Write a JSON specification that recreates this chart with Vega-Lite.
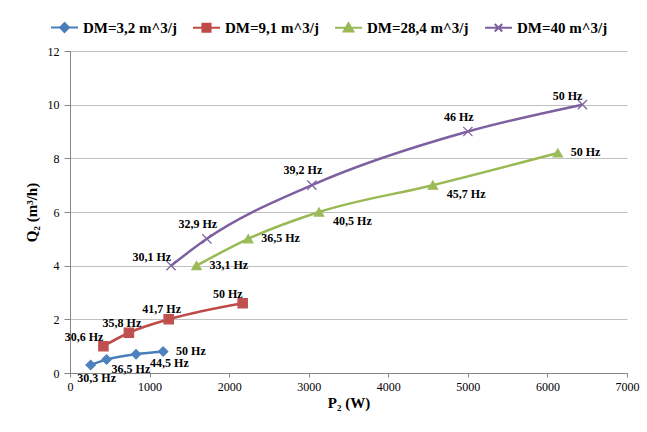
{
  "$schema": "https://vega.github.io/schema/vega-lite/v6.json",
  "width": 557,
  "height": 322,
  "autosize": {"type": "none"},
  "padding": {"left": 70, "top": 51, "right": 20, "bottom": 59},
  "background": "white",
  "config": {"view": {"stroke": null}, "font": "Liberation Serif"},
  "data": {
    "values": [
      {"series": "DM=3,2 m^3/j", "P": 260, "Q": 0.3, "label": "30,3 Hz"},
      {"series": "DM=3,2 m^3/j", "P": 460, "Q": 0.5, "label": "36,5 Hz"},
      {"series": "DM=3,2 m^3/j", "P": 830, "Q": 0.7, "label": "44,5 Hz"},
      {"series": "DM=3,2 m^3/j", "P": 1170, "Q": 0.8, "label": "50 Hz"},
      {"series": "DM=9,1 m^3/j", "P": 420, "Q": 1.0, "label": "30,6 Hz"},
      {"series": "DM=9,1 m^3/j", "P": 740, "Q": 1.5, "label": "35,8 Hz"},
      {"series": "DM=9,1 m^3/j", "P": 1240, "Q": 2.0, "label": "41,7 Hz"},
      {"series": "DM=9,1 m^3/j", "P": 2170, "Q": 2.6, "label": "50 Hz"},
      {"series": "DM=28,4 m^3/j", "P": 1590, "Q": 4.0, "label": "33,1 Hz"},
      {"series": "DM=28,4 m^3/j", "P": 2240, "Q": 5.0, "label": "36,5 Hz"},
      {"series": "DM=28,4 m^3/j", "P": 3130, "Q": 6.0, "label": "40,5 Hz"},
      {"series": "DM=28,4 m^3/j", "P": 4560, "Q": 7.0, "label": "45,7 Hz"},
      {"series": "DM=28,4 m^3/j", "P": 6130, "Q": 8.2, "label": "50 Hz"},
      {"series": "DM=40 m^3/j", "P": 1270, "Q": 4.0, "label": "30,1 Hz"},
      {"series": "DM=40 m^3/j", "P": 1720, "Q": 5.0, "label": "32,9 Hz"},
      {"series": "DM=40 m^3/j", "P": 3040, "Q": 7.0, "label": "39,2 Hz"},
      {"series": "DM=40 m^3/j", "P": 5000, "Q": 9.0, "label": "46 Hz"},
      {"series": "DM=40 m^3/j", "P": 6440, "Q": 10.0, "label": "50 Hz"}
    ]
  },
  "encoding": {
    "x": {
      "field": "P", "type": "quantitative",
      "scale": {"domain": [0, 7000], "nice": false},
      "axis": {
        "title": "P₂ (W)", "values": [0, 1000, 2000, 3000, 4000, 5000, 6000, 7000], "format": "d",
        "grid": false, "tickSize": 4, "tickColor": "#868686", "domainColor": "#868686",
        "labelFont": "Liberation Serif", "labelFontSize": 12, "labelColor": "#000",
        "labelFlush": false, "labelPadding": 4,
        "titleFont": "Liberation Serif", "titleFontSize": 15, "titleFontWeight": "bold",
        "titleColor": "#000", "titlePadding": 3
      }
    },
    "y": {
      "field": "Q", "type": "quantitative",
      "scale": {"domain": [0, 12], "nice": false},
      "axis": {
        "title": "Q₂ (m³/h)", "values": [0, 2, 4, 6, 8, 10, 12],
        "grid": true, "gridColor": "#C0C0C0", "gridWidth": 1,
        "tickSize": 6, "tickColor": "#868686", "domainColor": "#868686",
        "labelFont": "Liberation Serif", "labelFontSize": 12, "labelColor": "#000",
        "labelPadding": 5,
        "titleFont": "Liberation Serif", "titleFontSize": 15, "titleFontWeight": "bold",
        "titleColor": "#000", "titlePadding": 8
      }
    }
  },
  "layer": [
    {
      "mark": {"type": "line", "interpolate": "monotone", "strokeWidth": 2.5},
      "encoding": {
        "color": {"field": "series", "type": "nominal",
          "scale": {"domain": ["DM=3,2 m^3/j", "DM=9,1 m^3/j", "DM=28,4 m^3/j", "DM=40 m^3/j"], "range": ["#4A7EBB", "#BE4B48", "#98B954", "#7D60A0"]},
          "legend": null}
      }
    },
    {
      "mark": {"type": "point", "filled": true, "size": 85, "opacity": 1, "strokeWidth": 1.3},
      "encoding": {
        "color": {"field": "series", "type": "nominal",
          "scale": {"domain": ["DM=3,2 m^3/j", "DM=9,1 m^3/j", "DM=28,4 m^3/j", "DM=40 m^3/j"], "range": ["#4F81BD", "#C0504D", "#9BBB59", "#8064A2"]},
          "legend": null},
        "stroke": {"field": "series", "type": "nominal",
          "scale": {"domain": ["DM=3,2 m^3/j", "DM=9,1 m^3/j", "DM=28,4 m^3/j", "DM=40 m^3/j"], "range": ["#4F81BD", "#C0504D", "#9BBB59", "#8064A2"]},
          "legend": null},
        "shape": {"field": "series", "type": "nominal",
          "scale": {"domain": ["DM=3,2 m^3/j", "DM=9,1 m^3/j", "DM=28,4 m^3/j", "DM=40 m^3/j"], "range": ["diamond", "square", "triangle-up", "M-1,-1L1,1M1,-1L-1,1"]},
          "legend": null}
      }
    },
    {
      "transform": [{"filter": "datum.P < 0"}],
      "mark": {"type": "point", "filled": true, "opacity": 1, "strokeWidth": 2},
      "encoding": {
        "color": {"field": "series", "type": "nominal",
          "scale": {"domain": ["DM=3,2 m^3/j", "DM=9,1 m^3/j", "DM=28,4 m^3/j", "DM=40 m^3/j"], "range": ["#4A7EBB", "#BE4B48", "#98B954", "#7D60A0"]},
          "legend": {"orient": "none", "legendX": -20, "legendY": -38, "direction": "horizontal", "columns": 4, "title": null, "symbolSize": 729, "symbolStrokeWidth": 2, "labelFont": "Liberation Serif", "labelFontSize": 15, "labelFontWeight": "bold", "labelColor": "#000", "columnPadding": 12, "labelOffset": 4}},
        "stroke": {"field": "series", "type": "nominal",
          "scale": {"domain": ["DM=3,2 m^3/j", "DM=9,1 m^3/j", "DM=28,4 m^3/j", "DM=40 m^3/j"], "range": ["#4A7EBB", "#BE4B48", "#98B954", "#7D60A0"]},
          "legend": {"orient": "none", "legendX": -20, "legendY": -38, "direction": "horizontal", "columns": 4, "title": null, "symbolSize": 729, "symbolStrokeWidth": 2, "labelFont": "Liberation Serif", "labelFontSize": 15, "labelFontWeight": "bold", "labelColor": "#000", "columnPadding": 12, "labelOffset": 4}},
        "shape": {"field": "series", "type": "nominal",
          "scale": {"domain": ["DM=3,2 m^3/j", "DM=9,1 m^3/j", "DM=28,4 m^3/j", "DM=40 m^3/j"], "range": ["M-1,0L1,0M0,-0.33L0.33,0L0,0.33L-0.33,0Z", "M-1,0L1,0M-0.3,-0.3L0.3,-0.3L0.3,0.3L-0.3,0.3Z", "M-1,0L1,0M0,-0.34L0.36,0.28L-0.36,0.28Z", "M-1,0L1,0M-0.28,-0.28L0.28,0.28M0.28,-0.28L-0.28,0.28"]},
          "legend": {"orient": "none", "legendX": -20, "legendY": -38, "direction": "horizontal", "columns": 4, "title": null, "symbolSize": 729, "symbolStrokeWidth": 2, "labelFont": "Liberation Serif", "labelFontSize": 15, "labelFontWeight": "bold", "labelColor": "#000", "columnPadding": 12, "labelOffset": 4}}
      }
    },
    {
      "transform": [{"filter": "indexof(['DM=3,2 m^3/j|30,3 Hz'], datum.series + '|' + datum.label) >= 0"}],
      "mark": {"type": "text", "align": "center", "baseline": "middle", "dx": 6, "dy": 13, "font": "Liberation Serif", "fontSize": 12, "fontWeight": "bold", "color": "#000"},
      "encoding": {"text": {"field": "label"}}
    },
    {
      "transform": [{"filter": "indexof(['DM=3,2 m^3/j|36,5 Hz'], datum.series + '|' + datum.label) >= 0"}],
      "mark": {"type": "text", "align": "left", "baseline": "middle", "dx": 5, "dy": 9, "font": "Liberation Serif", "fontSize": 12, "fontWeight": "bold", "color": "#000"},
      "encoding": {"text": {"field": "label"}}
    },
    {
      "transform": [{"filter": "indexof(['DM=3,2 m^3/j|44,5 Hz', 'DM=28,4 m^3/j|40,5 Hz', 'DM=28,4 m^3/j|45,7 Hz'], datum.series + '|' + datum.label) >= 0"}],
      "mark": {"type": "text", "align": "left", "baseline": "middle", "dx": 14, "dy": 9, "font": "Liberation Serif", "fontSize": 12, "fontWeight": "bold", "color": "#000"},
      "encoding": {"text": {"field": "label"}}
    },
    {
      "transform": [{"filter": "indexof(['DM=3,2 m^3/j|50 Hz', 'DM=28,4 m^3/j|33,1 Hz', 'DM=28,4 m^3/j|36,5 Hz', 'DM=28,4 m^3/j|50 Hz'], datum.series + '|' + datum.label) >= 0"}],
      "mark": {"type": "text", "align": "left", "baseline": "middle", "dx": 13, "dy": -1, "font": "Liberation Serif", "fontSize": 12, "fontWeight": "bold", "color": "#000"},
      "encoding": {"text": {"field": "label"}}
    },
    {
      "transform": [{"filter": "indexof(['DM=9,1 m^3/j|35,8 Hz', 'DM=9,1 m^3/j|41,7 Hz'], datum.series + '|' + datum.label) >= 0"}],
      "mark": {"type": "text", "align": "center", "baseline": "middle", "dx": -7, "dy": -10, "font": "Liberation Serif", "fontSize": 12, "fontWeight": "bold", "color": "#000"},
      "encoding": {"text": {"field": "label"}}
    },
    {
      "transform": [{"filter": "indexof(['DM=40 m^3/j|32,9 Hz', 'DM=40 m^3/j|39,2 Hz', 'DM=40 m^3/j|46 Hz'], datum.series + '|' + datum.label) >= 0"}],
      "mark": {"type": "text", "align": "center", "baseline": "middle", "dx": -9, "dy": -15, "font": "Liberation Serif", "fontSize": 12, "fontWeight": "bold", "color": "#000"},
      "encoding": {"text": {"field": "label"}}
    },
    {
      "transform": [{"filter": "indexof(['DM=9,1 m^3/j|30,6 Hz', 'DM=9,1 m^3/j|50 Hz', 'DM=40 m^3/j|30,1 Hz', 'DM=40 m^3/j|50 Hz'], datum.series + '|' + datum.label) >= 0"}],
      "mark": {"type": "text", "align": "right", "baseline": "middle", "dx": 0, "dy": -9, "font": "Liberation Serif", "fontSize": 12, "fontWeight": "bold", "color": "#000"},
      "encoding": {"text": {"field": "label"}}
    }
  ],
  "resolve": {"scale": {"color": "independent", "stroke": "independent", "shape": "independent"}}
}
